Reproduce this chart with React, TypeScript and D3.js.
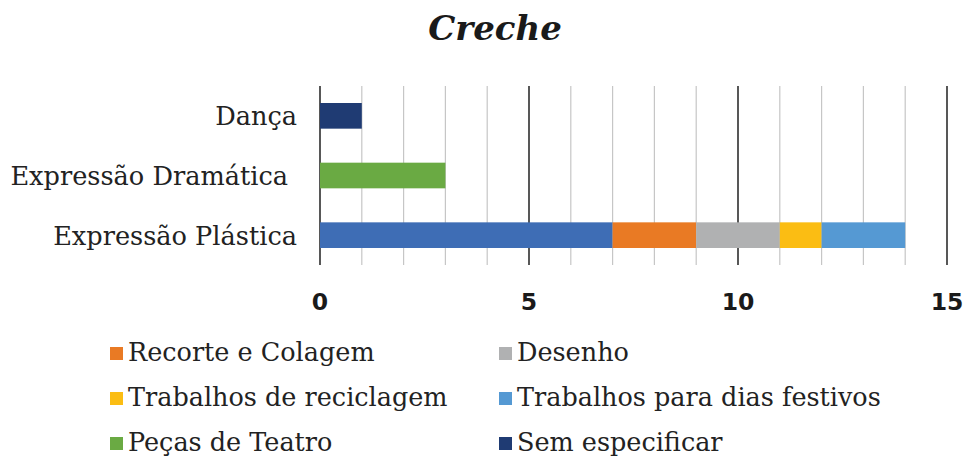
import React, { useEffect, useRef } from "react";
import * as d3 from "d3";

const categories = ["Dança", "Expressão Dramática", "Expressão Plástica"];
const seriesNames = [
  "Pintura",
  "Recorte e Colagem",
  "Desenho",
  "Trabalhos de reciclagem",
  "Trabalhos para dias festivos",
  "Peças de Teatro",
  "Sem especificar",
];
const seriesColors = ["#3E6DB5", "#E97A24", "#B0B1B2", "#FBBD13", "#5599D3", "#6AAA43", "#1F3B73"];
// values per series, in category order (Dança, Expressão Dramática, Expressão Plástica)
const pintura = [0, 0, 7];
const recorte = [0, 0, 2];
const desenho = [0, 0, 2];
const reciclagem = [0, 0, 1];
const festivos = [0, 0, 2];
const teatro = [0, 3, 0];
const semEspecificar = [1, 0, 0];
const legendItems = seriesNames.slice(1);
const xTicks = [0, 5, 10, 15];

const App = () => {
  const ref = useRef<SVGSVGElement>(null);

  useEffect(() => {
    const svg = d3.select(ref.current);
    svg.selectAll("*").remove();

    const W = 966, H = 457;
    const left = 320, right = 947, top = 86, bottom = 265;

    const values = [pintura, recorte, desenho, reciclagem, festivos, teatro, semEspecificar];
    const table = categories.map((c, i) => {
      const row: any = { cat: c };
      seriesNames.forEach((s, j) => (row[s] = values[j][i]));
      return row;
    });
    const stacked = d3.stack().keys(seriesNames)(table);

    const x = d3.scaleLinear().domain([0, 15]).range([left, right]);
    const y = d3.scaleBand().domain(categories).range([top, bottom]).paddingInner(0.57).paddingOuter(0.285);

    svg.append("rect").attr("width", W).attr("height", H).attr("fill", "#fff");

    // title
    svg.append("text")
      .attr("x", 495).attr("y", 40)
      .attr("text-anchor", "middle")
      .style("font-family", "DejaVu Serif")
      .style("font-weight", "bold")
      .style("font-style", "italic")
      .style("font-size", "34px")
      .attr("fill", "#1a1a1a")
      .text("Creche");

    // gridlines
    const grid = svg.append("g");
    d3.range(0, 16).forEach(v => {
      const major = v % 5 === 0;
      grid.append("line")
        .attr("x1", x(v)).attr("x2", x(v))
        .attr("y1", top).attr("y2", bottom)
        .attr("stroke", major ? "#111" : "#c6c6c6")
        .attr("stroke-width", major ? 1.4 : 1.2);
    });

    // bars
    svg.append("g")
      .selectAll("g")
      .data(stacked)
      .enter()
      .append("g")
      .attr("fill", (d, i) => seriesColors[i])
      .selectAll("rect")
      .data(d => d.filter(p => p[1] > p[0]))
      .enter()
      .append("rect")
      .attr("x", d => x(d[0]))
      .attr("width", d => x(d[1]) - x(d[0]))
      .attr("y", d => y(d.data.cat as string)!)
      .attr("height", y.bandwidth());

    // category labels
    svg.append("g")
      .selectAll("text")
      .data(categories)
      .enter()
      .append("text")
      .attr("x", (d, i) => (i === 1 ? 288 : 297))
      .attr("y", d => y(d)! + y.bandwidth() / 2 + 9.5)
      .attr("text-anchor", "end")
      .style("font-family", "DejaVu Serif")
      .style("font-size", "25.6px")
      .attr("fill", "#222")
      .text(d => d);

    // x tick labels
    svg.append("g")
      .selectAll("text")
      .data(xTicks)
      .enter()
      .append("text")
      .attr("x", d => x(d))
      .attr("y", 310)
      .attr("text-anchor", "middle")
      .style("font-family", "DejaVu Sans")
      .style("font-weight", "bold")
      .style("font-size", "23.5px")
      .attr("fill", "#1a1a1a")
      .text(d => d);

    // legend
    const lg = svg.append("g");
    legendItems.forEach((name, i) => {
      const col = i % 2, row = Math.floor(i / 2);
      const lx = col === 0 ? 110 : 499;
      const base = 361 + row * 45;
      const color = seriesColors[seriesNames.indexOf(name)];
      lg.append("rect")
        .attr("x", lx).attr("y", base - 14)
        .attr("width", 13).attr("height", 13)
        .attr("fill", color);
      lg.append("text")
        .attr("x", lx + 18).attr("y", base)
        .style("font-family", "DejaVu Serif")
        .style("font-size", "25.5px")
        .attr("fill", "#222")
        .text(name);
    });
  }, []);

  return <svg ref={ref} width={966} height={457} style={{ display: "block", position: "absolute", left: 0, top: 0 }} />;
};

export default App;
